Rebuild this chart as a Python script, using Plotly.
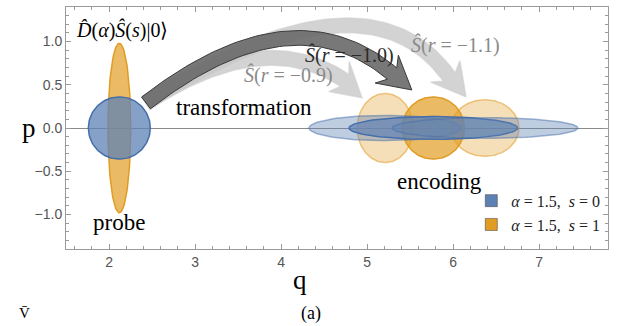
import numpy as np
import plotly.graph_objects as go

# ---------------- data ----------------
# probe states (centre q, semi-axis q, semi-axis p)
probe_q = [2.12, 2.12]
probe_aq = [0.132, 0.36]
probe_ap = [0.98, 0.36]

# encoded states for r = -0.9, -1.0, -1.1
r_values = [-0.9, -1.0, -1.1]
enc_q = [5.21, 5.77, 6.37]
enc_blue_aq = [0.886, 0.98, 1.08]
enc_blue_ap = [0.146, 0.132, 0.12]
enc_orange_aq = [0.325, 0.36, 0.396]
enc_orange_ap = [0.40, 0.36, 0.327]

x_ticks = [2, 3, 4, 5, 6, 7]
y_ticks = [-1.0, -0.5, 0.0, 0.5, 1.0]
y_ticktext = ["−1.0", "−0.5", "0.0", "0.5", "1.0"]
legend_names = ["<i>α</i> = 1.5,  <i>s</i> = 0", "<i>α</i> = 1.5,  <i>s</i> = 1"]

BLUE = (94, 129, 181)
BLUE_EDGE = (70, 110, 170)
ORANGE = (225, 156, 36)

# arrows: tail, control, head-base, tip
arrows = {
    -1.1: dict(p0=(2.43, 0.29), p1=(5.0, 1.92), p2=(5.955, 0.59), tip=(6.15, 0.36)),
    -0.9: dict(p0=(2.43, 0.29), p1=(3.81, 1.18), p2=(4.74, 0.55), tip=(4.94, 0.35)),
    -1.0: dict(p0=(2.43, 0.29), p1=(4.13, 1.60), p2=(5.29, 0.63), tip=(5.52, 0.44)),
}


def rgba(c, a):
    return f"rgba({c[0]},{c[1]},{c[2]},{a})"


def ellipse(cq, aq, ap, n=120):
    t = np.linspace(0, 2 * np.pi, n)
    return cq + aq * np.cos(t), ap * np.sin(t)


def arrow_poly(p0, p1, p2, tip, w, hw):
    p0, p1, p2, tip = map(np.array, (p0, p1, p2, tip))
    t = np.linspace(0, 1, 60)[:, None]
    pts = (1 - t) ** 2 * p0 + 2 * (1 - t) * t * p1 + t ** 2 * p2
    d = 2 * (1 - t) * (p1 - p0) + 2 * t * (p2 - p1)
    d = d / np.linalg.norm(d, axis=1, keepdims=True)
    n = np.stack([-d[:, 1], d[:, 0]], axis=1)
    left = pts + n * w / 2
    right = pts - n * w / 2
    te = d[-1]
    ne = n[-1]
    barb_l = p2 + ne * hw - te * 0.08
    barb_r = p2 - ne * hw - te * 0.08
    poly = np.vstack([left, barb_l[None], tip[None], barb_r[None], right[::-1], left[:1]])
    return poly[:, 0], poly[:, 1]


fig = go.Figure()

# light arrows
for r in (-1.1, -0.9):
    a = arrows[r]
    xs, ys = arrow_poly(a["p0"], a["p1"], a["p2"], a["tip"], 0.17, 0.21)
    fig.add_trace(go.Scatter(x=xs, y=ys, fill="toself", mode="lines",
                             fillcolor="rgba(200,200,200,0.8)",
                             line=dict(color="rgba(205,205,205,0.6)", width=1.5),
                             showlegend=False, hoverinfo="skip"))
a = arrows[-1.0]
xs, ys = arrow_poly(a["p0"], a["p1"], a["p2"], a["tip"], 0.17, 0.21)
fig.add_trace(go.Scatter(x=xs, y=ys, fill="toself", mode="lines",
                         fillcolor="rgba(105,105,105,0.9)",
                         line=dict(color="#3a3a3a", width=1),
                         showlegend=False, hoverinfo="skip"))

# probe: orange ellipse then blue circle
ex, ey = ellipse(probe_q[0], probe_aq[0], probe_ap[0])
fig.add_trace(go.Scatter(x=ex, y=ey, fill="toself", mode="lines",
                         fillcolor=rgba(ORANGE, 0.7), line=dict(color=rgba(ORANGE, 1), width=1.5),
                         showlegend=False, hoverinfo="skip"))
ex, ey = ellipse(probe_q[1], probe_aq[1], probe_ap[1])
fig.add_trace(go.Scatter(x=ex, y=ey, fill="toself", mode="lines",
                         fillcolor=rgba(BLUE, 0.75), line=dict(color=rgba(BLUE_EDGE, 1), width=1.5),
                         showlegend=False, hoverinfo="skip"))

# encoded orange circles
for i, r in enumerate(r_values):
    main = (r == -1.0)
    ex, ey = ellipse(enc_q[i], enc_orange_aq[i], enc_orange_ap[i])
    fig.add_trace(go.Scatter(x=ex, y=ey, fill="toself", mode="lines",
                             fillcolor=rgba(ORANGE, 0.7 if main else 0.32),
                             line=dict(color=rgba(ORANGE, 1.0 if main else 0.55), width=1.5),
                             showlegend=False, hoverinfo="skip"))
# encoded blue ellipses
for i, r in enumerate(r_values):
    main = (r == -1.0)
    ex, ey = ellipse(enc_q[i], enc_blue_aq[i], enc_blue_ap[i])
    fig.add_trace(go.Scatter(x=ex, y=ey, fill="toself", mode="lines",
                             fillcolor=rgba(BLUE, 0.7 if main else 0.4),
                             line=dict(color=rgba(BLUE_EDGE, 1.0 if main else 0.5), width=1.5),
                             showlegend=False, hoverinfo="skip"))

# legend entries
for name, col in zip(legend_names, [BLUE, ORANGE]):
    fig.add_trace(go.Scatter(x=[None], y=[None], mode="markers", name=name,
                             marker=dict(symbol="square", size=12, color=rgba(col, 1),
                                         line=dict(color="rgba(80,80,80,0.6)", width=1))))

serif = "Liberation Serif"
ann = []


def txt(x, y, s, size, color="black", xref="x", yref="y", **kw):
    d = dict(x=x, y=y, text=s, showarrow=False, xref=xref, yref=yref,
             font=dict(family=serif, size=size, color=color))
    d.update(kw)
    ann.append(d)


txt(2.15, 1.13, "<i>D̂</i>(<i>α</i>)<i>Ŝ</i>(<i>s</i>)|0⟩", 20)
txt(3.57, 0.24, "transformation", 23)
txt(2.12, -1.09, "probe", 23)
txt(5.84, -0.62, "encoding", 23)
txt(4.09, 0.61, "<i>Ŝ</i>(<i>r</i> = −0.9)", 20, color="#8a8a8a")
txt(4.80, 0.84, "<i>Ŝ</i>(<i>r</i> = −1.0)", 20, color="#2a2a2a")
txt(6.03, 0.96, "<i>Ŝ</i>(<i>r</i> = −1.1)", 20, color="#8a8a8a")
# axis labels and panel label (paper coordinates)
txt(-0.085, 0.5, "p", 27, xref="paper", yref="paper")
txt(0.432, -0.2, "q", 27, xref="paper", yref="paper")
txt(0.452, -0.32, "(a)", 18, xref="paper", yref="paper")
txt(-0.09, -0.265, "V̄", 15, xref="paper", yref="paper", yanchor="middle")

axis_common = dict(showgrid=False, showline=True, linecolor="#9a9a9a", linewidth=1,
                   mirror="allticks", ticks="inside", ticklen=5, tickcolor="#9a9a9a",
                   tickfont=dict(family="Liberation Sans", size=14, color="#555555"))

fig.update_layout(
    width=618, height=326,
    margin=dict(l=66, r=10, t=7, b=77),
    paper_bgcolor="white", plot_bgcolor="white",
    xaxis=dict(range=[1.5, 7.8], tickvals=x_ticks, zeroline=False,
               minor=dict(dtick=0.2, ticks="inside", ticklen=3, tickcolor="#9a9a9a"),
               **axis_common),
    yaxis=dict(range=[-1.4, 1.4], tickvals=y_ticks, ticktext=y_ticktext,
               zeroline=True, zerolinecolor="#8a8a8a", zerolinewidth=1,
               minor=dict(dtick=0.1, ticks="inside", ticklen=3, tickcolor="#9a9a9a"),
               **axis_common),
    legend=dict(x=0.995, y=0.03, xanchor="right", yanchor="bottom", bgcolor="rgba(0,0,0,0)",
                font=dict(family=serif, size=16, color="#222"), itemwidth=30, tracegroupgap=0),
    annotations=ann,
)

fig.write_html("out.html")
